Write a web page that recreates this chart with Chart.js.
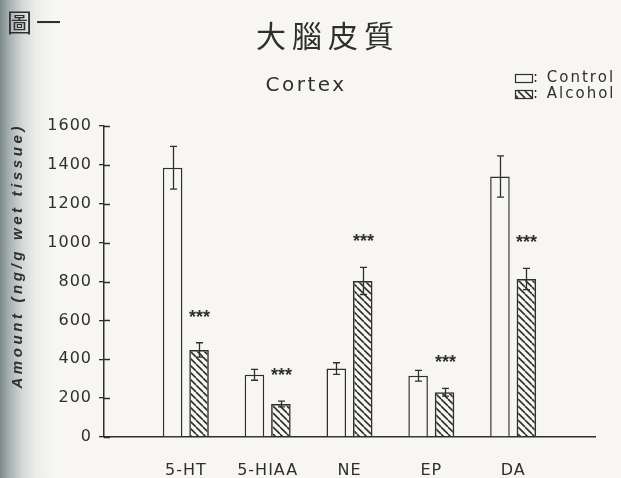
<!DOCTYPE html>
<html>
<head>
<meta charset="utf-8">
<script src="https://cdn.jsdelivr.net/npm/chart.js@4.4.1/dist/chart.umd.min.js"></script>
<style>
  html, body { margin: 0; padding: 0; }
  body {
    width: 621px; height: 478px; overflow: hidden;
    background: linear-gradient(to right, #7d898b 0px, #a6b0b0 9px, #d3d8d6 22px, #eceeea 36px, #f7f6f2 54px);
  }
  #wrap { position: relative; width: 621px; height: 478px; }
</style>
</head>
<body>
<div id="wrap"><canvas id="c"></canvas></div>
<script>
// Figure text
const figureTag = '圖一';
const chartTitle = '大腦皮質';
const regionName = 'Cortex';
const yAxisTitle = 'Amount (ng/g wet tissue)';

// Monoamines measured in cortex
const categories = ['5-HT', '5-HIAA', 'NE', 'EP', 'DA'];
const seriesNames = ['Control', 'Alcohol'];

// Mean amount (ng/g wet tissue) and standard error
const controlMean = [1385, 320, 352, 315, 1340];
const controlSE   = [110, 28, 30, 28, 106];
const alcoholMean = [448, 170, 803, 230, 813];
const alcoholSE   = [37, 15, 70, 20, 55];

// Significance versus control
const alcoholSig = ['***', '***', '***', '***', '***'];

// Value axis
const yMin = 0, yMax = 1600, yStep = 200;

const ink = '#2f2f2f';
const paper = '#f7f6f2';
const sans = '"DejaVu Sans", "Liberation Sans", sans-serif';

// Empty slots on either side keep the groups off the axis ends
const pad = arr => [null, ...arr, null];
const axisLabels = ['', ...categories, ''];

// Diagonal hatching for the alcohol bars
function hatch() {
  const s = 7;
  const c = document.createElement('canvas');
  c.width = s; c.height = s;
  const g = c.getContext('2d');
  g.strokeStyle = ink;
  g.lineWidth = 1.6;
  g.beginPath();
  for (const o of [-s, 0, s]) {
    g.moveTo(o, 0);
    g.lineTo(o + s, s);
  }
  g.stroke();
  return g.createPattern(c, 'repeat');
}
const hatchFill = hatch();

const errorBars = {
  id: 'errorBars',
  afterDatasetsDraw(chart) {
    const { ctx } = chart;
    const y = chart.scales.y;
    ctx.save();
    ctx.strokeStyle = ink;
    ctx.fillStyle = ink;
    ctx.lineWidth = 1.3;
    chart.data.datasets.forEach((ds, di) => {
      const meta = chart.getDatasetMeta(di);
      meta.data.forEach((bar, i) => {
        const v = ds.data[i], e = ds.errors[i];
        if (v == null || e == null) return;
        const x = Math.round(bar.x) + 0.5;
        const t = y.getPixelForValue(v + e);
        const b = y.getPixelForValue(v - e);
        ctx.beginPath();
        ctx.moveTo(x, t); ctx.lineTo(x, b);
        ctx.moveTo(x - 3.5, t); ctx.lineTo(x + 3.5, t);
        ctx.moveTo(x - 3.5, b); ctx.lineTo(x + 3.5, b);
        ctx.stroke();
        const mark = ds.marks && ds.marks[i];
        if (mark) {
          ctx.letterSpacing = '0px';
          ctx.font = 'bold 18px "Liberation Sans", sans-serif';
          ctx.textAlign = 'center';
          ctx.textBaseline = 'alphabetic';
          ctx.fillText(mark, x, t - 30 + 10);
        }
      });
    });
    ctx.restore();
  }
};

const decorations = {
  id: 'decorations',
  beforeDraw(chart) {
    chart.ctx.letterSpacing = '1px';
  },
  afterDraw(chart) {
    const { ctx, chartArea } = chart;
    const y = chart.scales.y;
    ctx.save();
    ctx.fillStyle = ink;
    ctx.strokeStyle = ink;

    // tick marks crossing into the plot
    ctx.lineWidth = 1.3;
    ctx.beginPath();
    for (let v = yMin; v <= yMax; v += yStep) {
      const py = Math.round(y.getPixelForValue(v)) + 0.5;
      ctx.moveTo(chartArea.left, py);
      ctx.lineTo(chartArea.left + 6, py);
    }
    ctx.stroke();

    // figure tag
    ctx.textBaseline = 'middle';
    ctx.textAlign = 'left';
    ctx.letterSpacing = '4px';
    ctx.font = '25px "Noto Sans CJK TC", sans-serif';
    ctx.fillText(figureTag, 7, 22);

    // title
    ctx.textAlign = 'center';
    ctx.letterSpacing = '6px';
    ctx.font = '30px "Noto Sans CJK TC", sans-serif';
    ctx.fillText(chartTitle, 328, 36);

    // region
    ctx.letterSpacing = '2.5px';
    ctx.font = '20px ' + sans;
    ctx.fillText(regionName, 306, 86);

    // value axis title
    ctx.save();
    ctx.translate(18, 123);
    ctx.rotate(-Math.PI / 2);
    ctx.textAlign = 'right';
    ctx.letterSpacing = '3.6px';
    ctx.font = 'italic bold 15px "Liberation Sans", sans-serif';
    ctx.fillText(yAxisTitle, 0, 0);
    ctx.restore();

    // legend
    const rows = [74, 90];
    chart.data.datasets.forEach((ds, i) => {
      const top = rows[i];
      ctx.fillStyle = ds.backgroundColor;
      ctx.fillRect(515, top, 17, 8);
      ctx.lineWidth = 1.2;
      ctx.strokeStyle = ink;
      ctx.strokeRect(515.5, top + 0.5, 17, 8);
      ctx.fillStyle = ink;
      ctx.textAlign = 'left';
      ctx.letterSpacing = '2px';
      ctx.font = '15px ' + sans;
      ctx.fillText(': ' + ds.label, 533, top + 4.5);
    });
    ctx.restore();
  }
};

new Chart(document.getElementById('c'), {
  type: 'bar',
  data: {
    labels: axisLabels,
    datasets: [
      {
        label: seriesNames[0],
        data: pad(controlMean),
        errors: pad(controlSE),
        backgroundColor: paper,
        borderColor: ink,
        borderWidth: 1.5,
        categoryPercentage: 0.646,
        barPercentage: 0.74
      },
      {
        label: seriesNames[1],
        data: pad(alcoholMean),
        errors: pad(alcoholSE),
        marks: pad(alcoholSig),
        backgroundColor: hatchFill,
        borderColor: ink,
        borderWidth: 1.5,
        categoryPercentage: 0.646,
        barPercentage: 0.74
      }
    ]
  },
  options: {
    responsive: true,
    maintainAspectRatio: false,
    animation: false,
    events: [],
    layout: { padding: { top: 126, right: 26, bottom: 0, left: 0 } },
    plugins: {
      legend: { display: false },
      title: { display: false },
      tooltip: { enabled: false }
    },
    scales: {
      x: {
        offset: false,
        grid: { display: false, drawTicks: false },
        border: { display: true, color: ink, width: 1.5 },
        ticks: {
          color: ink,
          font: { family: sans, size: 16 },
          padding: 24,
          maxRotation: 0,
          autoSkip: false
        },
        afterFit(scale) { scale.height = 41; }
      },
      y: {
        min: yMin,
        max: yMax,
        grid: { drawOnChartArea: false, color: ink, tickLength: 5, lineWidth: 1.3 },
        border: { display: true, color: ink, width: 1.5 },
        ticks: {
          stepSize: yStep,
          color: ink,
          font: { family: sans, size: 16 },
          padding: 7,
          callback: v => String(v)
        },
        afterFit(scale) { scale.width = 104; }
      }
    }
  },
  plugins: [errorBars, decorations]
});
</script>
</body>
</html>
